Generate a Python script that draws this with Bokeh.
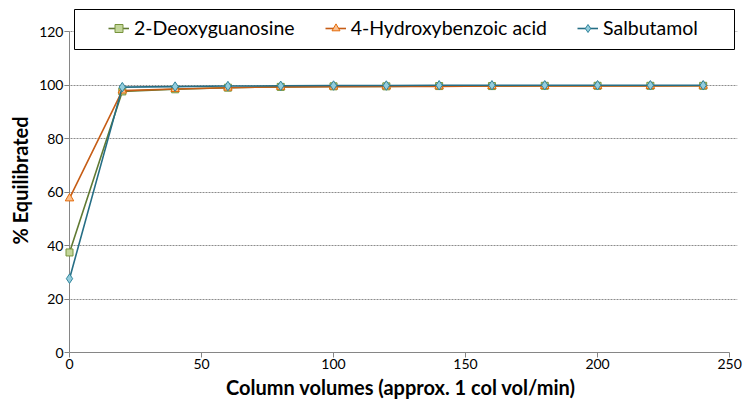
from bokeh.plotting import figure
from bokeh.models import Legend, LegendItem, Range1d, FixedTicker, BoxAnnotation, Title
from bokeh.embed import file_html
from bokeh.resources import INLINE

col_volumes = [0, 20, 40, 60, 80, 100, 120, 140, 160, 180, 200, 220, 240]
deoxyguanosine = [37.4, 97.6, 98.4, 99.0, 99.3, 99.5, 99.5, 99.6, 99.6, 99.7, 99.7, 99.7, 99.7]
hydroxybenzoic = [57.6, 97.9, 98.5, 99.0, 99.3, 99.4, 99.5, 99.5, 99.6, 99.6, 99.6, 99.6, 99.7]
salbutamol = [27.6, 99.2, 99.4, 99.6, 99.7, 99.8, 99.8, 99.9, 99.9, 99.9, 99.9, 99.9, 99.9]
x_ticks = [0, 50, 100, 150, 200, 250]
y_ticks = [0, 20, 40, 60, 80, 100, 120]
x_bounds = (0, 250)
y_bounds = (0, 120)

FONT = "Lato"
AXIS_GRAY = "#868686"

# frame extends a little beyond 0-250 / 0-120 so the markers at x=0 and the legend box
# (which overlaps the top of the plot like the original) are not clipped
p = figure(frame_width=673, frame_height=344, output_backend="svg", toolbar_location=None,
           x_range=Range1d(-1.894, 253.0), y_range=Range1d(0, 128.6),
           min_border_left=64, min_border_right=7, min_border_top=8, min_border_bottom=51)
p.outline_line_color = None
p.background_fill_color = "white"

# grid
p.xgrid.grid_line_color = None
p.ygrid.ticker = FixedTicker(ticks=y_ticks[1:])
p.ygrid.bounds = x_bounds
p.ygrid.grid_line_color = "#8c8c8c"
p.ygrid.grid_line_dash = "2 1"
p.ygrid.grid_line_width = 1

for ax in (p.xaxis[0], p.yaxis[0]):
    ax.axis_line_color = AXIS_GRAY
    ax.major_tick_line_color = AXIS_GRAY
    ax.minor_tick_line_color = None
    ax.major_tick_out = 5
    ax.major_tick_in = 0
    ax.major_label_text_font = FONT
    ax.major_label_text_font_size = "14px"
    ax.major_label_text_color = "#000000"

p.xaxis.ticker = FixedTicker(ticks=x_ticks)
p.yaxis.ticker = FixedTicker(ticks=y_ticks)
p.xaxis.bounds = x_bounds
p.yaxis.bounds = y_bounds
# y axis rule drawn at x=0 (inside the frame); its ticks reach from the frame edge to x=0
p.yaxis.axis_line_color = None
p.yaxis.major_tick_out = 0
p.yaxis.major_tick_in = 5
p.xaxis.major_label_standoff = 1
p.yaxis.major_label_standoff = 1

# axis titles as side titles so they can be positioned like the original
x_title = Title(text="Column volumes (approx. 1 col vol/min)", align="center", offset=32,
                standoff=2, text_font=FONT, text_font_size="20px", text_font_style="bold",
                text_color="#000000")
y_title = Title(text="% Equilibrated", align="center", offset=-12,
                standoff=9, text_font=FONT, text_font_size="20px", text_font_style="bold",
                text_color="#000000")
p.add_layout(x_title, "below")
p.add_layout(y_title, "left")

p.segment(x0=[x_bounds[0]], y0=[y_bounds[0]], x1=[x_bounds[0]], y1=[y_bounds[1]],
          line_color=AXIS_GRAY, line_width=1)

l1 = p.line(col_volumes, deoxyguanosine, line_color="#617a33", line_width=1.6)
m1 = p.scatter(col_volumes, deoxyguanosine, marker="square", size=7,
               fill_color="#c3d69b", line_color="#77933c", line_width=1)
l2 = p.line(col_volumes, hydroxybenzoic, line_color="#c65d16", line_width=1.6)
m2 = p.scatter(col_volumes, hydroxybenzoic, marker="triangle", size=8.5,
               fill_color="#fac090", line_color="#e46c0a", line_width=1)
l3 = p.line(col_volumes, salbutamol, line_color="#266e85", line_width=1.6)
m3 = p.scatter(col_volumes, salbutamol, marker="diamond", size=9.5,
               fill_color="#93cddd", line_color="#31859c", line_width=1)

# legend frame (screen units: x from frame left, y from frame bottom)
legend_box = BoxAnnotation(left=10, right=670, top=343, bottom=303,
                           left_units="screen", right_units="screen",
                           top_units="screen", bottom_units="screen",
                           fill_color="white", fill_alpha=1,
                           line_color="black", line_width=1, line_alpha=1)
p.add_layout(legend_box)

legend = Legend(items=[
    LegendItem(label="2-Deoxyguanosine", renderers=[l1, m1]),
    LegendItem(label="4-Hydroxybenzoic acid", renderers=[l2, m2]),
    LegendItem(label="Salbutamol", renderers=[l3, m3]),
], orientation="horizontal", location=(44, 313))
legend.border_line_color = None
legend.background_fill_alpha = 0
legend.label_text_font = FONT
legend.label_text_font_size = "19.5px"
legend.label_text_color = "#000000"
legend.glyph_width = 21
legend.glyph_height = 20
legend.label_height = 20
legend.label_standoff = 5
legend.spacing = 30
legend.padding = 0
legend.margin = 0
p.add_layout(legend, "center")

open("out.html", "w").write(file_html(p, INLINE))
